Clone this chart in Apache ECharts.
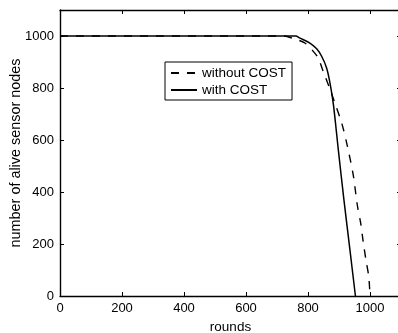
<!DOCTYPE html>
<html><head><meta charset="utf-8">
<script src="https://cdn.jsdelivr.net/npm/echarts@6/dist/echarts.min.js"></script>
<style>html,body{margin:0;padding:0;background:#fff}#c{width:398px;height:333px}</style>
</head><body><div id="c"></div>
<script>
var seriesNames = ['without COST', 'with COST'];
var withoutCost = [[0,1000],[720,1000],[753,990],[790,973],[817,941],[833,915],[849,864],[868,805],[887,741],[909,664],[925,587],[946,465],[959,350],[970,280],[978,209],[987,138],[996,74],[1000,0]];
var withCost = [[0,1000],[760,1000],[774,992],[806,973],[828,951],[844,922],[860,877],[871,819],[882,736],[898,560],[916,369],[935,180],[953,0]];
var xTicks = [0,200,400,600,800,1000];
var yTicks = [0,200,400,600,800,1000];

var font = 'Liberation Sans, Arial, sans-serif';
var chart = echarts.init(document.getElementById('c'), null, {renderer:'canvas'});
var axisCommon = {
  type:'value', min:0, max:1100, interval:200,
  axisLine:{show:true, onZero:false, lineStyle:{color:'#000', width:1.4}},
  axisTick:{show:true, inside:true, length:4, lineStyle:{color:'#000'}},
  splitLine:{show:false}
};
chart.setOption({
  backgroundColor:'#fff',
  animation:false,
  grid:{left:60, top:10, bottom:37, right:-3, containLabel:false, outerBoundsMode:'none'},
  legend:{
    orient:'vertical', left:165, top:62, data:seriesNames,
    backgroundColor:'#fff', borderColor:'#000', borderWidth:1, borderRadius:0,
    padding:[4,6,3,5], itemWidth:26, itemHeight:10, itemGap:3,
    itemStyle:{opacity:0},
    textStyle:{fontFamily:font, fontSize:13.5, color:'#000'}
  },
  xAxis:[
    Object.assign({}, axisCommon, {position:'bottom',
      name:'rounds', nameLocation:'middle', nameGap:24, nameMoveOverlap:false,
      nameTextStyle:{fontFamily:font, fontSize:13.5, color:'#000'},
      axisLabel:{fontFamily:font, fontSize:13, color:'#000', margin:6, showMaxLabel:false,
        formatter:function(v){return xTicks.indexOf(v)>=0?String(v):'';}}}),
    Object.assign({}, axisCommon, {position:'top', axisLabel:{show:false}})
  ],
  yAxis:[
    Object.assign({}, axisCommon, {position:'left',
      name:'number of alive sensor nodes', nameLocation:'middle', nameGap:37, nameMoveOverlap:false,
      nameTextStyle:{fontFamily:font, fontSize:14.4, color:'#000'},
      axisLabel:{fontFamily:font, fontSize:13, color:'#000', margin:6, showMaxLabel:false,
        formatter:function(v){return yTicks.indexOf(v)>=0?String(v):'';}}}),
    Object.assign({}, axisCommon, {position:'right', axisLabel:{show:false}})
  ],
  series:[
    {name:seriesNames[0], type:'line', data:withoutCost, symbol:'none', smooth:0.3,
      lineStyle:{color:'#000', width:1.4, type:[8,8]}, itemStyle:{color:'#000'}},
    {name:seriesNames[1], type:'line', data:withCost, symbol:'none', smooth:0.3,
      lineStyle:{color:'#000', width:1.5, type:'solid'}, itemStyle:{color:'#000'}}
  ]
});
</script></body></html>
